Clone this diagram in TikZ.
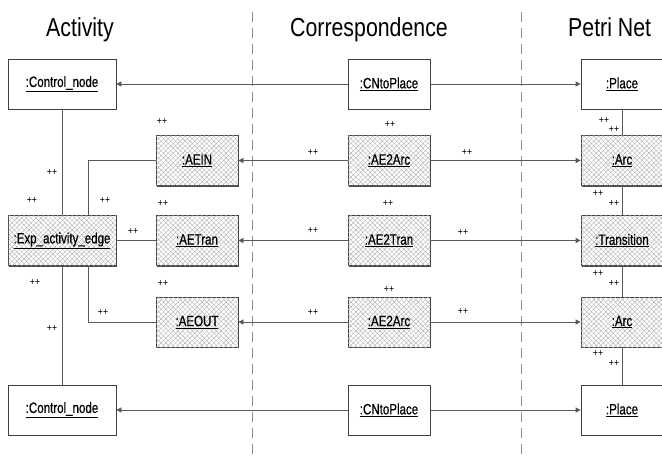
\documentclass[tikz,border=0pt]{standalone}
\usepackage{fontspec}
\setmainfont[FakeStretch=0.82]{Liberation Sans}
\newfontfamily\boxfont[FakeStretch=0.77,FakeBold=0.6]{Liberation Sans}
\usetikzlibrary{arrows.meta,patterns.meta,shadows}
\begin{document}
\begin{tikzpicture}[x=1pt,y=-1pt,
  box/.style={draw=black!75, line width=0.7pt, fill=white, minimum height=50pt,
    inner sep=0pt, font=\boxfont\fontsize{15}{17}\selectfont,
    drop shadow={shadow xshift=0.9pt, shadow yshift=-1.1pt, opacity=1, fill=black!70}},
  wbox/.style={box, minimum width=108pt},
  nbox/.style={box, minimum width=82pt},
  hatch/.style={postaction={pattern={Lines[angle=45,distance=3.4pt,line width=0.3pt]}, pattern color=black!35},
                postaction={pattern={Lines[angle=-45,distance=3.4pt,line width=0.3pt]}, pattern color=black!35}},
  conn/.style={draw=black!65, line width=0.7pt},
  arr/.style={conn, -{Triangle[length=5pt,width=5pt]}},
  pp/.style={font=\fontsize{10.5}{11}\selectfont, inner sep=0pt},
  ttl/.style={font=\fontsize{26}{30}\selectfont, inner sep=0pt, anchor=base},
  sep/.style={draw=black!45, line width=0.7pt, dash pattern=on 10pt off 6pt}
]
\useasboundingbox (0,0) rectangle (662,456);
\fill[white] (0,0) rectangle (662,456);

% separators
\coordinate (s1t) at (252,12); \coordinate (s1b) at (252,456);
\coordinate (s2t) at (521,12); \coordinate (s2b) at (521,456);
\draw[sep] (s1t) -- (s1b);
\draw[sep] (s2t) -- (s2b);

% titles
\node[ttl] (tA) at (80,36) {Activity};
\node[ttl] (tC) at (369,36) {Correspondence};
\node[ttl, anchor=base west] (tP) at (568,36) {Petri Net};

% left column
\node[wbox] (ctl1) at (62,84) {\underline{:Control\_node}};
\node[wbox, hatch] (exp) at (62,240.5) {\underline{:Exp\_activity\_edge}};
\node[wbox] (ctl2) at (62,410) {\underline{:Control\_node}};

% AE column
\node[nbox, hatch] (aein) at (197,160.5) {\underline{:AEIN}};
\node[nbox, hatch] (aetran) at (197,240.5) {\underline{:AETran}};
\node[nbox, hatch] (aeout) at (197,322) {\underline{:AEOUT}};

% correspondence column
\node[nbox] (cn1) at (389,84) {\underline{:CNtoPlace}};
\node[nbox, hatch] (ae2arc1) at (389,160.5) {\underline{:AE2Arc}};
\node[nbox, hatch] (ae2tran) at (389,240.5) {\underline{:AE2Tran}};
\node[nbox, hatch] (ae2arc2) at (389,322) {\underline{:AE2Arc}};
\node[nbox] (cn2) at (389,410) {\underline{:CNtoPlace}};

% petri net column
\node[nbox] (pl1) at (622,84) {\underline{:Place}};
\node[nbox, hatch] (arc1) at (622,160.5) {\underline{:Arc}};
\node[nbox, hatch] (tr) at (622,240.5) {\underline{:Transition}};
\node[nbox, hatch] (arc2) at (622,322) {\underline{:Arc}};
\node[nbox] (pl2) at (622,410) {\underline{:Place}};

% structural links
\draw[conn] (ctl1) -- (exp);
\draw[conn] (exp) -- (ctl2);
\draw[conn] ([xshift=26pt]exp.north) |- (aein.west);
\draw[conn] (exp) -- (aetran);
\draw[conn] ([xshift=26pt]exp.south) |- (aeout.west);
\draw[conn] (pl1) -- (arc1);
\draw[conn] (arc1) -- (tr);
\draw[conn] (tr) -- (arc2);
\draw[conn] (arc2) -- (pl2);

% correspondence arrows
\draw[arr] (cn1) -- (ctl1);
\draw[arr] (cn1) -- (pl1);
\draw[arr] (ae2arc1) -- (aein);
\draw[arr] (ae2arc1) -- (arc1);
\draw[arr] (ae2tran) -- (aetran);
\draw[arr] (ae2tran) -- (tr);
\draw[arr] (ae2arc2) -- (aeout);
\draw[arr] (ae2arc2) -- (arc2);
\draw[arr] (cn2) -- (ctl2);
\draw[arr] (cn2) -- (pl2);

% ++ labels
\node[pp] (p1) at (162,121) {++};
\node[pp] (p2) at (390,124) {++};
\node[pp] (p3) at (52,172) {++};
\node[pp] (p4) at (313,152) {++};
\node[pp] (p5) at (467,152) {++};
\node[pp] (p6) at (604,120) {++};
\node[pp] (p7) at (614,129) {++};
\node[pp] (p8) at (32,200) {++};
\node[pp] (p9) at (105,200) {++};
\node[pp] (p10) at (163,203) {++};
\node[pp] (p11) at (388,203) {++};
\node[pp] (p12) at (598,193) {++};
\node[pp] (p13) at (614,203) {++};
\node[pp] (p14) at (133,231) {++};
\node[pp] (p15) at (313,230) {++};
\node[pp] (p16) at (463,232) {++};
\node[pp] (p17) at (35,282) {++};
\node[pp] (p18) at (163,283) {++};
\node[pp] (p19) at (598,273) {++};
\node[pp] (p20) at (614,283) {++};
\node[pp] (p21) at (52,328) {++};
\node[pp] (p22) at (103,312) {++};
\node[pp] (p23) at (313,312) {++};
\node[pp] (p24) at (389,289) {++};
\node[pp] (p25) at (463,311) {++};
\node[pp] (p26) at (598,353) {++};
\node[pp] (p27) at (614,363) {++};
\end{tikzpicture}
\end{document}
